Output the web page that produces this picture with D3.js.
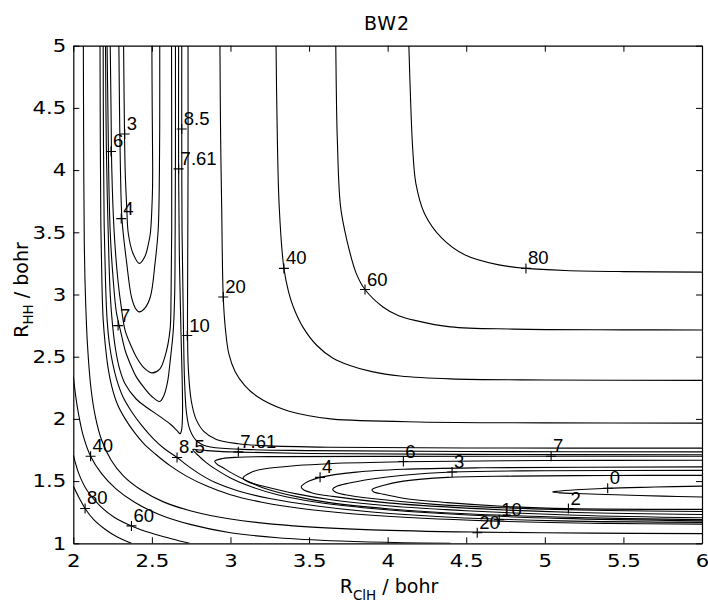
<!DOCTYPE html>
<html><head><meta charset="utf-8">
<script src="https://cdn.jsdelivr.net/npm/d3@7"></script>
<style>body{margin:0;background:#fff}svg{display:block}</style>
</head><body>
<svg id="c" width="708" height="602"></svg>
<script>
// ---- tick values ----
const xTicks = [2, 2.5, 3, 3.5, 4, 4.5, 5, 5.5, 6];
const yTicks = [1, 1.5, 2, 2.5, 3, 3.5, 4, 4.5, 5];

// ---- contour lines: [R_ClH, R_HH] in bohr ----
// product channel (HCl + H), closed at the bottom
const c3_top = [[2.32,5],[2.324,4.5],[2.33,4.0],[2.34,3.7],[2.35,3.49],[2.38,3.33],[2.42,3.25],[2.457,3.31],[2.48,3.42],[2.49,3.49],[2.503,3.8],[2.505,4.03],[2.502,4.5],[2.50,5]];
const c4_top = [[2.29,5],[2.294,4.5],[2.30,4.0],[2.31,3.6],[2.34,3.25],[2.37,2.98],[2.395,2.89],[2.42,2.86],[2.455,2.89],[2.49,2.98],[2.52,3.25],[2.54,3.52],[2.548,4.0],[2.55,4.5],[2.55,5]];
const c6_top = [[2.235,5],[2.24,4.5],[2.245,4.0],[2.26,3.5],[2.285,3.1],[2.305,2.9],[2.33,2.71],[2.37,2.58],[2.40,2.50],[2.45,2.41],[2.50,2.37],[2.55,2.40],[2.583,2.50],[2.615,2.71],[2.622,3.0],[2.626,3.52],[2.626,4.2],[2.625,5]];
const c7_top = [[2.215,5],[2.22,4.5],[2.225,4.0],[2.235,3.5],[2.255,3.1],[2.275,2.85],[2.30,2.71],[2.33,2.55],[2.36,2.45],[2.40,2.34],[2.445,2.26],[2.50,2.18],[2.55,2.14],[2.577,2.19],[2.60,2.30],[2.615,2.45],[2.636,2.71],[2.645,3.0],[2.648,3.5],[2.65,4.2],[2.65,5]];
const c761_top = [[2.205,5],[2.21,4.2],[2.22,3.6],[2.235,3.0],[2.25,2.75],[2.27,2.55],[2.295,2.40],[2.33,2.28],[2.40,2.16],[2.47,2.09],[2.55,2.02],[2.62,1.955],[2.66,1.905],[2.68,1.88],[2.69,1.92],[2.695,2.05],[2.693,2.3],[2.685,2.7],[2.675,3.3],[2.67,4.0],[2.67,5]];
// reactant channel (Cl + H2), closed at the left
const c0_bot = [[6,1.46],[5.7,1.452],[5.4,1.443],[5.2,1.43],[5.08,1.418],[5.05,1.412],[5.1,1.405],[5.2,1.40],[5.45,1.39],[5.75,1.379],[6,1.372]];
const c2_bot = [[6,1.546],[5.4,1.545],[4.8,1.54],[4.38,1.53],[4.1,1.50],[3.97,1.465],[3.91,1.44],[3.90,1.43],[3.91,1.415],[3.97,1.395],[4.1,1.362],[4.38,1.327],[4.8,1.293],[5.15,1.279],[6,1.273]];
const c3_bot = [[6,1.586],[5,1.583],[4.41,1.573],[4.1,1.547],[3.9,1.517],[3.75,1.483],[3.67,1.455],[3.65,1.435],[3.67,1.41],[3.73,1.39],[3.9,1.36],[4.3,1.313],[4.8,1.283],[5.4,1.264],[6,1.256]];
const c4_bot = [[6,1.614],[4.6,1.607],[4.1,1.595],[3.8,1.572],[3.57,1.53],[3.5,1.50],[3.46,1.47],[3.45,1.455],[3.465,1.43],[3.52,1.405],[3.65,1.377],[4.0,1.325],[4.5,1.283],[5.2,1.247],[6,1.232]];
const c6_bot = [[6,1.668],[5,1.665],[4.1,1.655],[3.63,1.64],[3.42,1.625],[3.21,1.597],[3.13,1.57],[3.08,1.525],[3.11,1.495],[3.16,1.475],[3.21,1.458],[3.42,1.397],[3.63,1.352],[4.0,1.302],[4.5,1.262],[5.2,1.226],[6,1.205]];
const c7_bot = [[6,1.70],[5.04,1.70],[4,1.699],[3.3,1.697],[3.05,1.692],[2.95,1.682],[2.90,1.66],[2.915,1.635],[2.95,1.61],[3.0,1.57],[3.1,1.505],[3.21,1.445],[3.42,1.375],[3.63,1.327],[4.0,1.278],[4.5,1.237],[5.2,1.207],[6,1.19]];
const c761_bot = [[6,1.712],[4.5,1.715],[3.5,1.722],[3.05,1.733],[2.95,1.737],[2.85,1.745],[2.79,1.752],[2.76,1.755],[2.775,1.73],[2.80,1.70],[2.84,1.655],[2.9,1.60],[3.0,1.525],[3.12,1.46],[3.3,1.39],[3.55,1.33],[3.9,1.28],[4.4,1.235],[5.1,1.20],[6,1.18]];
// levels above the saddle: inner (repulsive) branches
const c85_in = [[2.19,5],[2.192,4.2],[2.196,3.6],[2.205,3.1],[2.215,2.8],[2.23,2.6],[2.25,2.45],[2.275,2.32],[2.315,2.18],[2.37,2.06],[2.44,1.94],[2.51,1.84],[2.58,1.76],[2.66,1.69],[2.72,1.63],[2.8,1.56],[2.9,1.49],[3.05,1.42],[3.25,1.36],[3.55,1.30],[3.9,1.252],[4.4,1.21],[5.1,1.18],[6,1.168]];
const c10_in = [[2.17,5],[2.172,4.2],[2.175,3.6],[2.182,3.1],[2.19,2.8],[2.203,2.6],[2.22,2.42],[2.245,2.26],[2.28,2.12],[2.33,2.0],[2.39,1.89],[2.45,1.80],[2.52,1.72],[2.62,1.62],[2.72,1.54],[2.85,1.46],[3.0,1.39],[3.2,1.33],[3.5,1.272],[3.9,1.225],[4.64,1.18],[5.4,1.16],[6,1.154]];
const c20_in = [[2.064,5],[2.066,4.2],[2.07,3.4],[2.077,3.0],[2.09,2.6],[2.112,2.25],[2.14,2.02],[2.18,1.83],[2.24,1.67],[2.32,1.54],[2.43,1.43],[2.57,1.335],[2.75,1.26],[3.0,1.195],[3.4,1.14],[3.9,1.108],[4.57,1.09],[5.3,1.082],[6,1.078]];
const c40_in = [[2,2.34],[2.025,2.1],[2.06,1.88],[2.11,1.70],[2.18,1.56],[2.27,1.44],[2.39,1.33],[2.55,1.23],[2.75,1.15],[3.0,1.085],[3.3,1.045],[3.7,1.018],[4.1,1.004],[4.4,1.0]];
const c60_in = [[2,1.71],[2.035,1.56],[2.09,1.42],[2.17,1.30],[2.26,1.21],[2.37,1.14],[2.5,1.08],[2.63,1.035],[2.74,1.0]];
const c80_in = [[2,1.46],[2.035,1.37],[2.075,1.28],[2.13,1.19],[2.2,1.115],[2.28,1.05],[2.37,1.0]];
// levels above the saddle: outer (L-shaped) branches
const c85_out = [[2.69,5],[2.69,4.33],[2.692,3.5],[2.70,2.8],[2.708,2.3],[2.72,2.05],[2.74,1.92],[2.78,1.83],[2.85,1.78],[3.05,1.757],[3.5,1.745],[4.5,1.738],[6,1.735]];
const c10_out = [[2.73,5],[2.73,4],[2.727,3],[2.727,2.67],[2.732,2.4],[2.75,2.15],[2.78,2.0],[2.83,1.9],[2.91,1.835],[3.05,1.80],[3.21,1.785],[3.63,1.772],[4.5,1.766],[6,1.765]];
const c20_out = [[2.933,5],[2.937,4.3],[2.944,3.71],[2.954,2.98],[2.968,2.72],[2.99,2.52],[3.03,2.38],[3.09,2.27],[3.17,2.18],[3.34,2.075],[3.5,2.025],[3.65,1.998],[4.2,1.975],[5,1.968],[6,1.966]];
const c40_out = [[3.29,5],[3.295,4.5],[3.31,3.71],[3.34,3.21],[3.37,3.02],[3.40,2.90],[3.46,2.74],[3.55,2.59],[3.65,2.49],[3.76,2.43],[3.9,2.38],[4.08,2.345],[4.4,2.322],[5,2.313],[6,2.31]];
const c60_out = [[3.67,5],[3.675,4.5],[3.68,4.24],[3.70,3.71],[3.74,3.44],[3.80,3.17],[3.856,3.04],[3.97,2.90],[4.07,2.83],[4.18,2.79],[4.40,2.74],[4.8,2.722],[5.5,2.716],[6,2.715]];
const c80_out = [[4.135,5],[4.146,4.56],[4.16,4.16],[4.18,3.89],[4.235,3.65],[4.34,3.46],[4.49,3.32],[4.70,3.24],[4.88,3.21],[5.13,3.193],[5.5,3.184],[6,3.18]];

const contourLines = [c3_top, c4_top, c6_top, c7_top, c761_top,
  c0_bot, c2_bot, c3_bot, c4_bot, c6_bot, c7_bot, c761_bot,
  c85_in, c10_in, c20_in, c40_in, c60_in, c80_in,
  c85_out, c10_out, c20_out, c40_out, c60_out, c80_out];

// ---- contour labels (clabel '+' markers) ----
const labelText = ["80","60","40","20","10","8.5","7.61","6","3","4","7","40","80","60","8.5","7.61","4","6","3","7","0","2","10","20"];
const labelX = [4.88,3.856,3.34,2.954,2.725,2.69,2.67,2.24,2.327,2.305,2.285,2.11,2.075,2.37,2.66,3.05,3.57,4.10,4.41,5.04,5.40,5.15,4.71,4.57];
const labelY = [3.21,3.04,3.21,2.98,2.67,4.33,4.01,4.15,4.29,3.61,2.75,1.70,1.28,1.14,1.69,1.735,1.53,1.657,1.573,1.70,1.443,1.279,1.19,1.085];

const titleText = "BW2";

// ---- drawing ----
const svg = d3.select("#c");
const m = {l:73.3, r:702, t:45.7, b:543.3};
const x = d3.scaleLinear().domain([2,6]).range([m.l, m.r]);
const y = d3.scaleLinear().domain([1,5]).range([m.b, m.t]);

svg.append("rect").attr("width",708).attr("height",602).attr("fill","#fff");
svg.append("clipPath").attr("id","clip").append("rect")
  .attr("x",m.l).attr("y",m.t).attr("width",m.r-m.l).attr("height",m.b-m.t);

const line = d3.line().x(d=>x(d[0])).y(d=>y(d[1])).curve(d3.curveCatmullRom.alpha(0.5));
const gc = svg.append("g").attr("clip-path","url(#clip)");
gc.selectAll("path.ct").data(contourLines).join("path").attr("class","ct")
  .attr("d", d=>line(d)).attr("fill","none").attr("stroke","#000").attr("stroke-width",1.1);

// markers and label text
const lab = labelText.map((t,i)=>({t, x:labelX[i], y:labelY[i]}));
const gl = svg.append("g");
lab.forEach(d=>{
  const px = x(d.x), py = y(d.y);
  gl.append("path").attr("d",`M${px-5},${py}H${px+5}M${px},${py-5}V${py+5}`)
    .attr("stroke","#000").attr("stroke-width",1.1);
  gl.append("text").attr("x",px+2).attr("y",py-4).text(d.t)
    .attr("font-family","Liberation Sans, Arial, sans-serif").attr("font-size",18.5).attr("fill","#000");
});

// axes (MATLAB box with inward ticks)
const fmt = d3.format("");
const styleAxis = g => {
  g.selectAll("path.domain").attr("stroke","#000").attr("stroke-width",1.2);
  g.selectAll(".tick line").attr("stroke","#000").attr("stroke-width",1);
  g.selectAll("text").attr("font-family","DejaVu Sans, sans-serif").attr("font-size",18).attr("fill","#000");
  g.attr("font-family",null).attr("font-size",null);
};
svg.append("g").attr("transform",`translate(0,${m.b})`)
  .call(d3.axisBottom(x).tickValues(xTicks).tickFormat(fmt).tickSizeInner(-6).tickSizeOuter(0).tickPadding(11)).call(styleAxis);
svg.append("g").attr("transform",`translate(${m.l},0)`)
  .call(d3.axisLeft(y).tickValues(yTicks).tickFormat(fmt).tickSizeInner(-6).tickSizeOuter(0).tickPadding(7)).call(styleAxis);
svg.append("g").attr("transform",`translate(0,${m.t})`)
  .call(d3.axisTop(x).tickValues(xTicks).tickFormat(()=>"").tickSizeInner(-6).tickSizeOuter(0)).call(styleAxis);
svg.append("g").attr("transform",`translate(${m.r},0)`)
  .call(d3.axisRight(y).tickValues(yTicks).tickFormat(()=>"").tickSizeInner(-6).tickSizeOuter(0)).call(styleAxis);

// stretch tick labels horizontally to match the reference's wide digits
svg.selectAll(".tick text").each(function(){
  const w = this.getComputedTextLength();
  if (w>0) d3.select(this).attr("textLength", w*1.18).attr("lengthAdjust","spacingAndGlyphs");
});

// title
svg.append("text").attr("x",387).attr("y",30).attr("text-anchor","middle")
  .attr("font-family","DejaVu Sans, sans-serif").attr("font-size",19).attr("letter-spacing",1).text(titleText);

// x label
const xl = svg.append("text").attr("x",389).attr("y",593).attr("text-anchor","middle")
  .attr("font-family","DejaVu Sans, sans-serif").attr("font-size",19);
xl.append("tspan").text("R");
xl.append("tspan").attr("font-size",13.5).attr("dy",7).text("ClH");
xl.append("tspan").attr("dy",-7).text(" / bohr");

// y label
const yl = svg.append("text").attr("transform","translate(28,290) rotate(-90)").attr("text-anchor","middle")
  .attr("font-family","DejaVu Sans, sans-serif").attr("font-size",19);
yl.append("tspan").text("R");
yl.append("tspan").attr("font-size",13.5).attr("dy",5).text("HH");
yl.append("tspan").attr("dy",-5).text(" / bohr");
</script>
</body></html>
